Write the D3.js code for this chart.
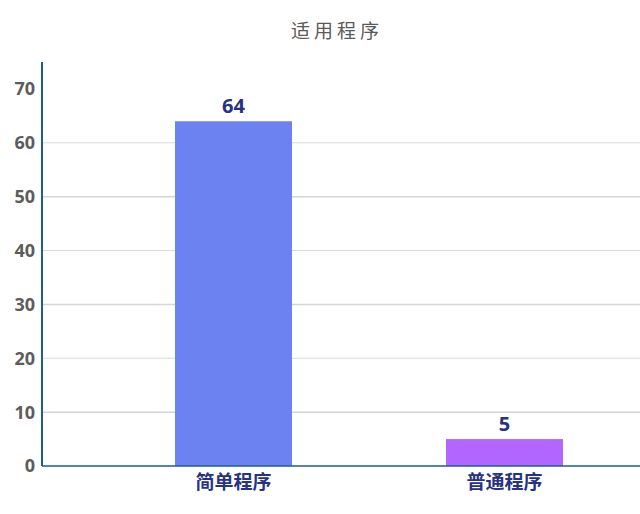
<!DOCTYPE html>
<html>
<head>
<meta charset="utf-8">
<script src="https://cdn.jsdelivr.net/npm/d3@7"></script>
<style>
  body { margin: 0; background: #fff; }
  svg { display: block; }
</style>
</head>
<body>
<svg id="chart" width="640" height="514"></svg>
<script>
var title = "适用程序";
var categories = ["简单程序", "普通程序"];
var values = [64, 5];
var barColors = ["#6b82f0", "#b266ff"];
var yTicks = [0, 10, 20, 30, 40, 50, 60, 70];
var gridTicks = [10, 20, 30, 40, 50, 60];

var svg = d3.select("#chart");
var axisX = 42, baseY = 466, topY = 62;

var y = d3.scaleLinear().domain([0, 75]).range([baseY, topY]);
var x = d3.scaleBand().domain(categories).range([98, 640]).paddingInner(0).paddingOuter(0);
var barW = 117;

// grid lines
svg.append("g").selectAll("line")
    .data(gridTicks)
    .enter().append("line")
    .attr("x1", axisX).attr("x2", 640)
    .attr("y1", function(d){ return y(d); })
    .attr("y2", function(d){ return y(d); })
    .attr("stroke", function(d){ return d % 20 ? "#d2d4de" : "#dadada"; })
    .attr("stroke-width", function(d){ return d % 20 ? 1.5 : 1; });

// y tick labels
svg.append("g").selectAll("text")
    .data(yTicks)
    .enter().append("text")
    .attr("x", 35)
    .attr("y", function(d){ return y(d); })
    .attr("dy", "0.36em")
    .attr("text-anchor", "end")
    .style("font-family", "'Open Sans', 'Noto Sans', sans-serif")
    .style("font-weight", "bold")
    .style("font-size", "18px")
    .attr("fill", "#5c5c5c")
    .text(function(d){ return d; });

// bars
svg.append("g").selectAll("rect")
    .data(values)
    .enter().append("rect")
    .attr("x", function(d, i){ return x(categories[i]) + x.bandwidth() / 2 - barW / 2; })
    .attr("width", barW)
    .attr("y", function(d){ return y(d); })
    .attr("height", function(d){ return baseY - y(d); })
    .attr("fill", function(d, i){ return barColors[i]; });

// value labels
svg.append("g").selectAll("text")
    .data(values)
    .enter().append("text")
    .attr("x", function(d, i){ return x(categories[i]) + x.bandwidth() / 2; })
    .attr("y", function(d){ return y(d) - 8; })
    .attr("text-anchor", "middle")
    .style("font-family", "'Open Sans', 'Noto Sans', sans-serif")
    .style("font-weight", "bold")
    .style("font-size", "20px")
    .attr("fill", "#27337f")
    .text(function(d){ return d; });

// axes lines
svg.append("line")
    .attr("x1", axisX).attr("x2", axisX)
    .attr("y1", topY).attr("y2", baseY)
    .attr("stroke", "#1a5f8e").attr("stroke-width", 2);
svg.append("line")
    .attr("x1", axisX).attr("x2", 640)
    .attr("y1", baseY).attr("y2", baseY)
    .attr("stroke", "#1a5f8e").attr("stroke-width", 1.5);

// category labels
svg.append("g").selectAll("text")
    .data(categories)
    .enter().append("text")
    .attr("x", function(d){ return x(d) + x.bandwidth() / 2; })
    .attr("y", 489)
    .attr("text-anchor", "middle")
    .style("font-family", "'Noto Sans CJK SC', sans-serif")
    .style("font-weight", "bold")
    .style("font-size", "19px")
    .attr("fill", "#27337f")
    .text(function(d){ return d; });

// title
svg.append("text")
    .attr("x", 337).attr("y", 38)
    .attr("text-anchor", "middle")
    .style("font-family", "'Noto Sans CJK SC', sans-serif")
    .style("font-size", "19px")
    .style("letter-spacing", "4px")
    .attr("fill", "#5a5a5a")
    .text(title);
</script>
</body>
</html>
